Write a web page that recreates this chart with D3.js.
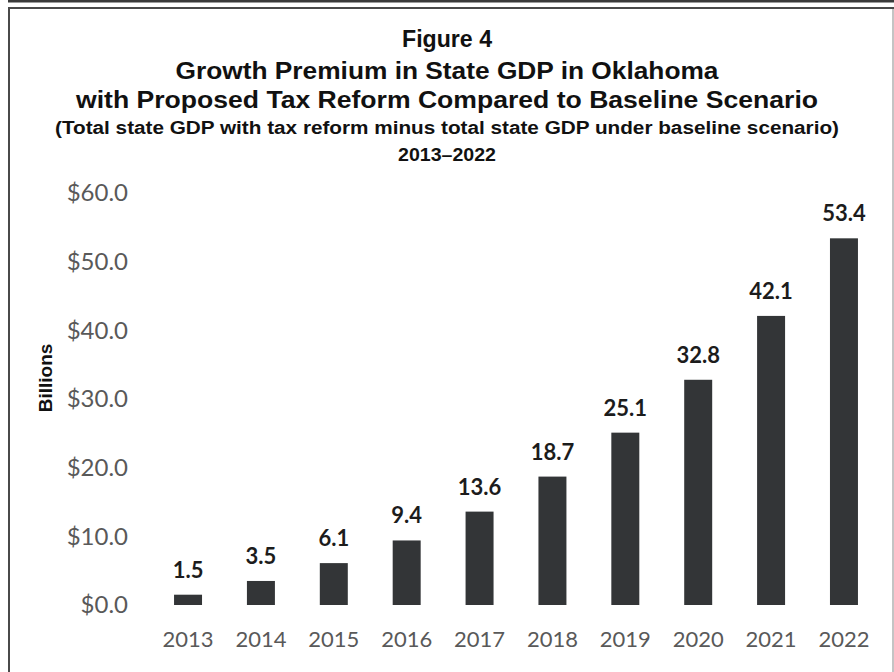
<!DOCTYPE html>
<html>
<head>
<meta charset="utf-8">
<script src="https://cdnjs.cloudflare.com/ajax/libs/d3/7.8.5/d3.min.js"></script>
<style>
	body { margin: 0; background: #fff; }
	svg { display: block; }
</style>
</head>
<body>
<svg class="chart" width="894" height="672"></svg>
<script>

var years = ['2013','2014','2015','2016','2017','2018','2019','2020','2021','2022'];
var premium = [1.5, 3.5, 6.1, 9.4, 13.6, 18.7, 25.1, 32.8, 42.1, 53.4];
var yTicks = [0, 10, 20, 30, 40, 50, 60];
var titleLines = [
	'Figure 4',
	'Growth Premium in State GDP in Oklahoma',
	'with Proposed Tax Reform Compared to Baseline Scenario',
	'(Total state GDP with tax reform minus total state GDP under baseline scenario)',
	'2013\u20132022'
];

var data = years.map((y,i) => ({x: y, y: premium[i]}));

var config = {
	width: 894,
	height: 672,
	left: 151.6,
	right: 880.4,
	top: 193,
	bottom: 605,
	barColor: '#333537',
	titleFont: '"Liberation Sans", Arial, sans-serif',
	labelFont: 'Lato, "Open Sans", sans-serif'
};

var svg = d3.select('.chart');

// frame
svg.append('rect')
	.attr('x', 8).attr('y', 0)
	.attr('width', 886).attr('height', 2.5)
	.attr('fill', '#3a3a3a');
svg.append('path')
	.attr('d', 'M9,672V8H894')
	.attr('fill', 'none')
	.attr('stroke', '#4a4a4a')
	.attr('stroke-width', 2);
svg.append('line')
	.attr('x1', 893).attr('x2', 893)
	.attr('y1', 9).attr('y2', 672)
	.attr('stroke', '#b0b0b0')
	.attr('stroke-width', 1.5);

// titles (the source picture is a bit stretched sideways, so lines are fitted to width)
var titleY = [47, 79, 108, 134, 161];
var titleSize = [23, 23, 23, 18, 18];
var titleWidth = [90, 543, 742, 784, 98];
svg.append('g')
	.selectAll('text')
	.data(titleLines)
	.enter()
	.append('text')
	.text(d => d)
	.attr('x', 447)
	.attr('y', (d,i) => titleY[i])
	.attr('text-anchor', 'middle')
	.attr('font-family', config.titleFont)
	.attr('font-weight', 'bold')
	.attr('font-size', (d,i) => titleSize[i])
	.attr('textLength', (d,i) => titleWidth[i])
	.attr('lengthAdjust', 'spacingAndGlyphs')
	.attr('fill', '#111');

var xScale = d3.scaleBand()
	.domain(years)
	.range([config.left, config.right])
	.paddingInner(0.616)
	.paddingOuter(0.308);

var yScale = d3.scaleLinear()
	.domain([0, 60])
	.range([config.bottom, config.top]);

// y axis
var yAxis = svg.append('g')
	.attr('transform', 'translate(136,0)')
	.call(d3.axisLeft(yScale)
		.tickValues(yTicks)
		.tickSize(0)
		.tickPadding(8)
		.tickFormat(d => '$' + d.toFixed(1)));
yAxis.select('.domain').remove();
yAxis.selectAll('text')
	.attr('font-family', config.labelFont)
	.attr('font-size', 24)
	.attr('fill', '#595959');

// x axis
var xAxis = svg.append('g')
	.attr('transform', 'translate(0,' + config.bottom + ')')
	.call(d3.axisBottom(xScale).tickSize(0).tickPadding(26));
xAxis.select('.domain').remove();
xAxis.selectAll('text')
	.attr('font-family', config.labelFont)
	.attr('font-size', 22)
	.attr('fill', '#595959');

// axis title
svg.append('text')
	.text('Billions')
	.attr('transform', 'translate(52,378) rotate(-90)')
	.attr('text-anchor', 'middle')
	.attr('font-family', config.titleFont)
	.attr('font-weight', 'bold')
	.attr('font-size', 19)
	.attr('fill', '#111');

// bars
var barGroups = svg.append('g')
	.selectAll('g')
	.data(data)
	.enter()
	.append('g');

barGroups.append('rect')
	.attr('x', d => xScale(d.x))
	.attr('width', xScale.bandwidth())
	.attr('y', d => yScale(d.y))
	.attr('height', d => config.bottom - yScale(d.y))
	.attr('fill', config.barColor);

barGroups.append('text')
	.text(d => d.y.toFixed(1))
	.attr('x', d => xScale(d.x) + xScale.bandwidth()/2)
	.attr('y', d => yScale(d.y) - 17)
	.attr('text-anchor', 'middle')
	.attr('font-family', config.labelFont)
	.attr('font-weight', 'bold')
	.attr('font-size', 22)
	.attr('fill', '#1c1c1c');

</script>
</body>
</html>
